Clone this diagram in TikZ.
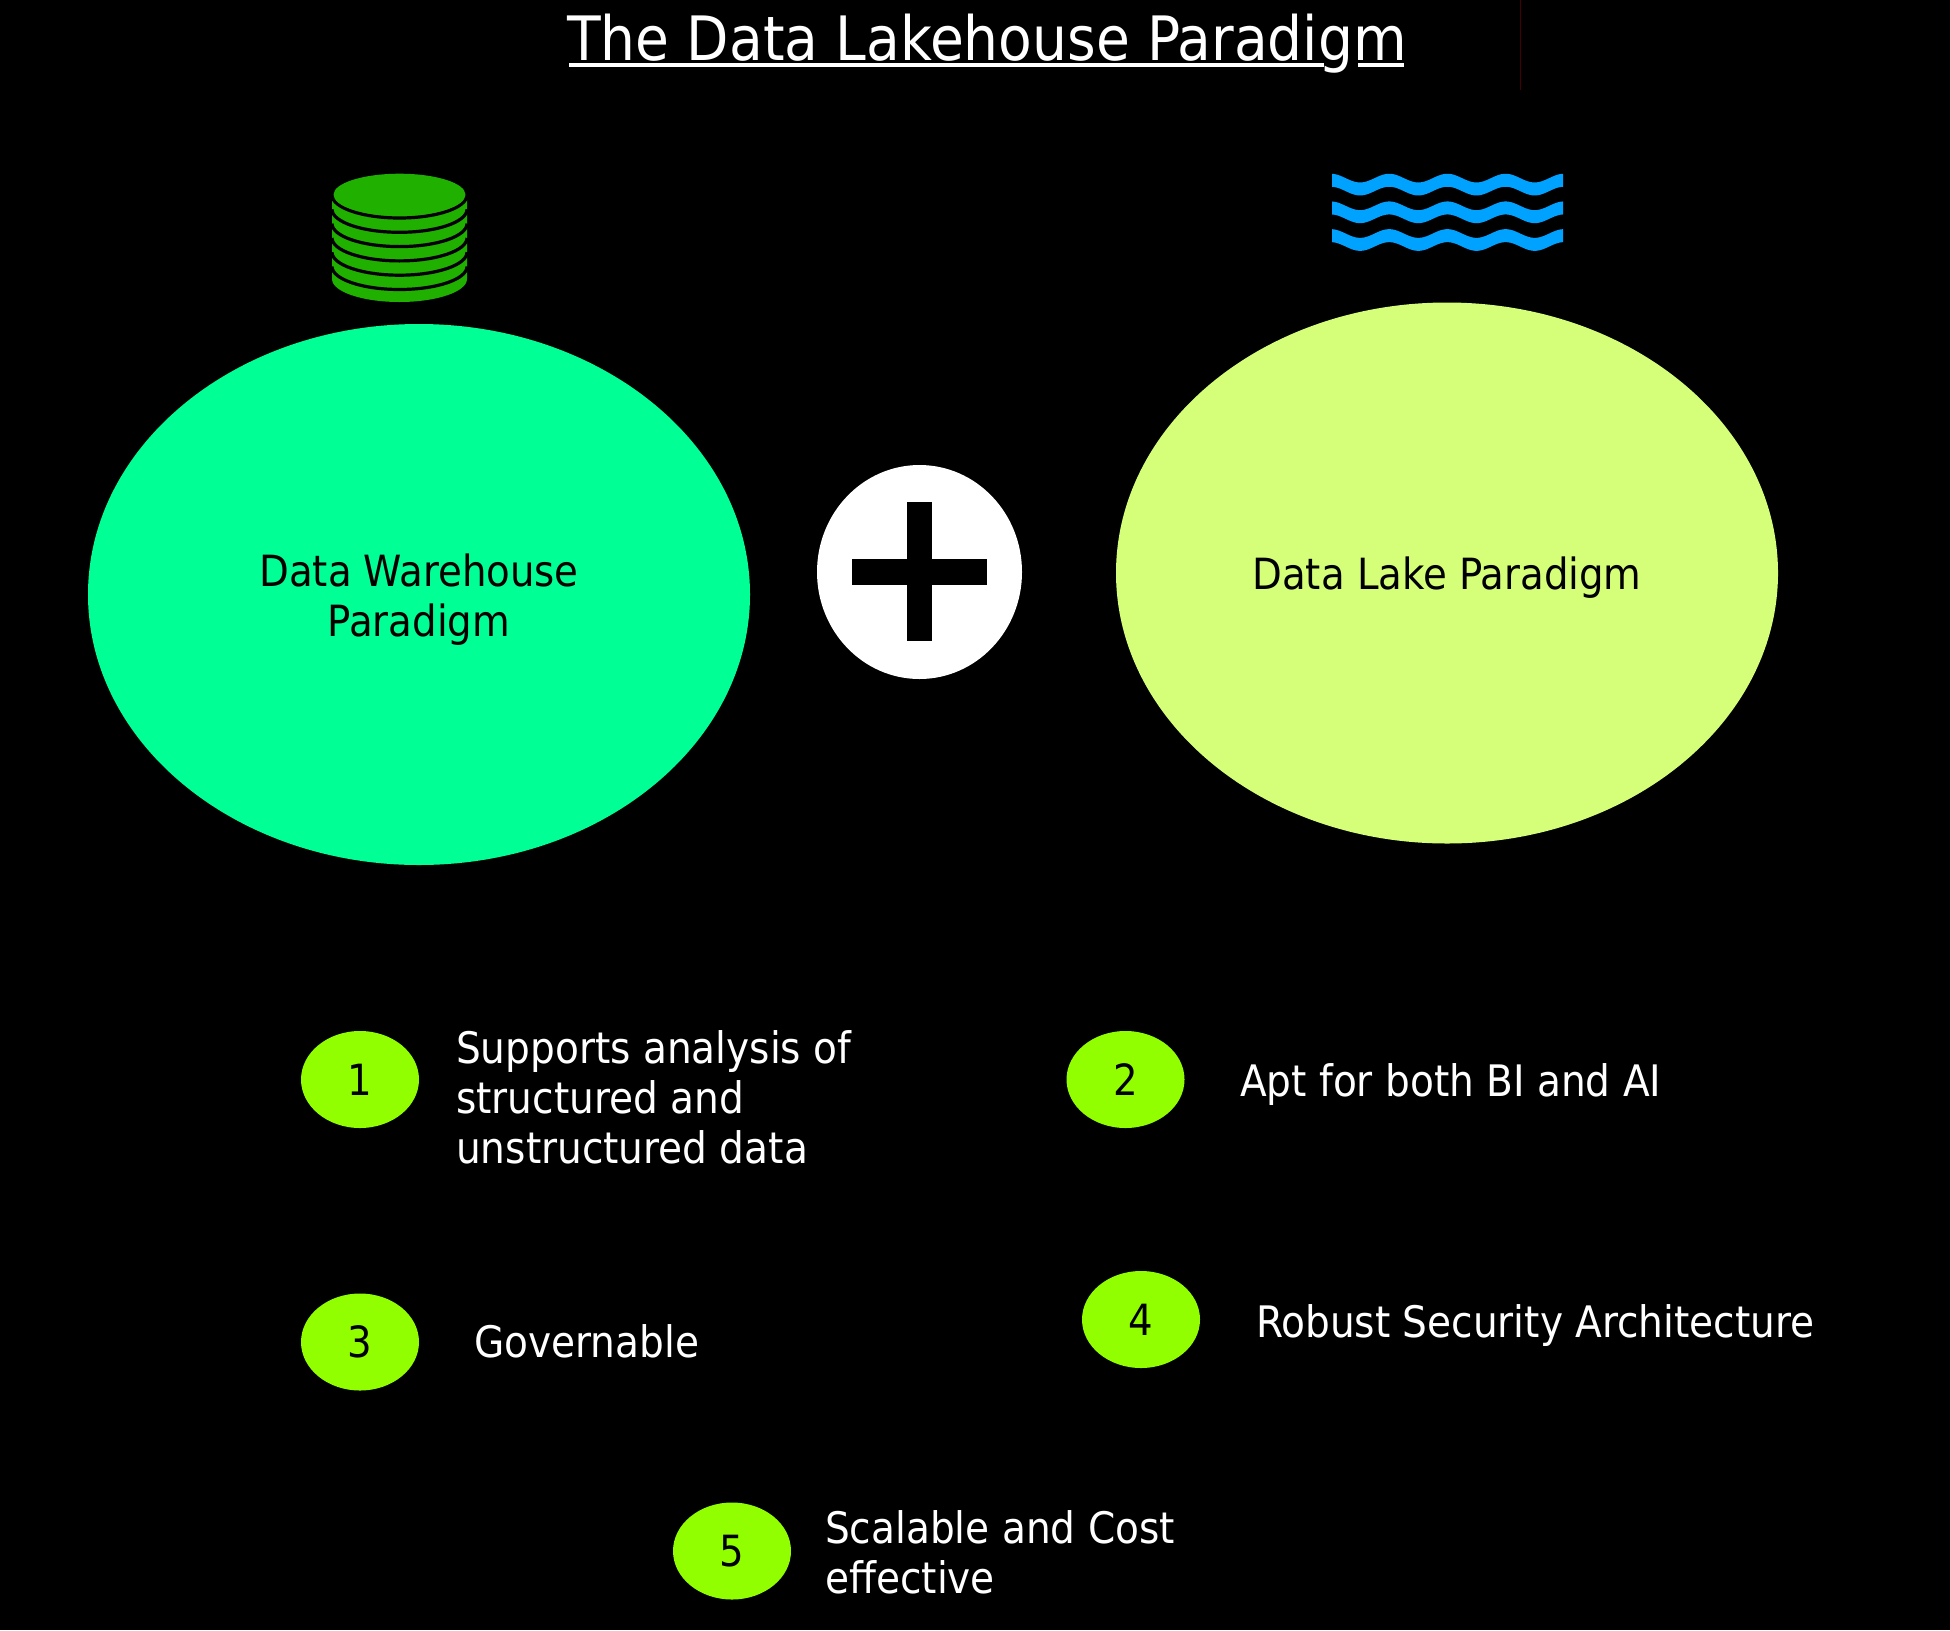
\documentclass[tikz,border=0pt]{standalone}
\usepackage{fontspec}
\setmainfont{DejaVu Sans Condensed}
\usepackage{tikz}
\usetikzlibrary{shapes.geometric}
\definecolor{wgreen}{RGB}{0,255,148}
\definecolor{lgreen}{RGB}{214,255,121}
\definecolor{ngreen}{RGB}{146,255,0}
\definecolor{dbgreen}{RGB}{32,176,0}
\definecolor{water}{RGB}{0,162,255}
\definecolor{darkline}{RGB}{70,0,0}
\tikzset{
	bigoval/.style = {ellipse, inner sep = 0pt, minimum width = 662pt, minimum height = 541pt},
	ovaltext/.style = {inner sep = 0pt, align = center, text = black, yshift = -5pt, font = \fontsize{43}{50}\selectfont},
	numoval/.style = {ellipse, inner sep = 0pt, minimum width = 118pt, minimum height = 97pt, fill = ngreen, text = black, font = \fontsize{43}{48}\selectfont},
	pointtext/.style = {anchor = base west, inner sep = 0pt, align = left, text = white, font = \fontsize{43.4}{50}\selectfont},
}

\begin{document}
\begin{tikzpicture}[x = 1pt, y = -1pt]

\fill[black] (0,0) rectangle (1950,1630);
\useasboundingbox (0,0) rectangle (1950,1630);

\draw[darkline, line width = 0.8pt] (1520,0)--(1520,90);

\node[anchor = base, inner sep = 0pt, text = white, font = \fontsize{61.2}{70}\selectfont] (title) at (987,60) {The Data Lakehouse Paradigm};
\draw[white, line width = 4pt] (569,65)--(1324,65);
\draw[white, line width = 4pt] (1358,65)--(1404,65);

\node[bigoval, fill = wgreen] (warehouse) at (419,594.5) {};
\node[ovaltext] (warehousetext) at (warehouse) {Data Warehouse\\Paradigm};
\node[bigoval, fill = lgreen] (lake) at (1447,573) {};
\node[ovaltext] (laketext) at (lake) {Data Lake Paradigm};

\node[ellipse, inner sep = 0pt, minimum width = 205pt, minimum height = 214pt, fill = white] (plus) at (919.5,572) {};
\fill[black] (852,559) rectangle (987,585);
\fill[black] (907,502) rectangle (932,641);

% stack of disks
\fill[dbgreen] (332,200)--(332,279) arc[start angle = 180, end angle = 0, x radius = 67.5, y radius = 23]--(467,200)--cycle;
\foreach \i in {0, 1, ..., 5} {
	\draw[black, line width = 3.2pt] (332,{195+14.3*\i}) arc[start angle = 180, end angle = 0, x radius = 67.5, y radius = 23];
}
\fill[dbgreen] (399.5,194.7) ellipse[x radius = 66, y radius = 21];

% water
\foreach \j in {0, 1, 2} {
	\fill[water, variable = \x, samples = 120] plot[domain = 1332:1563] ({\x}, {178.1+27.7*\j-4.35*cos(6.1856*(\x-1331))}) -- plot[domain = 1563:1332] ({\x}, {191.1+27.7*\j-4.35*cos(6.1856*(\x-1331))}) -- cycle;
}

\foreach \i/\px/\py in {1/360/1079.5, 2/1125.5/1079.5, 3/360/1342, 4/1141/1319.5, 5/732/1551} {
	\node[numoval] (num\i) at (\px,\py) {\i};
}

\node[pointtext] (point1) at (456,1163) {Supports analysis of\\structured and\\unstructured data};
\node[pointtext] (point2) at (1240,1096) {Apt for both BI and AI};
\node[pointtext] (point3) at (474,1357) {Governable};
\node[pointtext] (point4) at (1256,1337) {Robust Security Architecture};
\node[pointtext] (point5) at (825,1593) {Scalable and Cost\\effective};

\end{tikzpicture}
\end{document}
